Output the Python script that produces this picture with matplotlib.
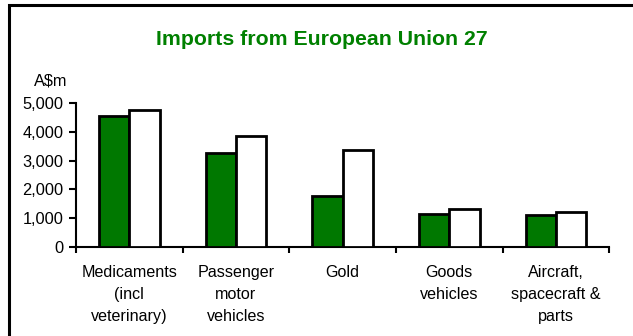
import numpy as np
import matplotlib.pyplot as plt
from matplotlib.patches import Rectangle

plt.rcParams['font.family'] = ['Liberation Sans', 'DejaVu Sans']

categories = ["Medicaments\n(incl\nveterinary)", "Passenger\nmotor\nvehicles", "Gold",
              "Goods\nvehicles", "Aircraft,\nspacecraft &\nparts"]
series_green = [4550, 3270, 1770, 1160, 1110]
series_white = [4760, 3850, 3350, 1310, 1220]
yticks = [0, 1000, 2000, 3000, 4000, 5000]
ytick_labels = ["0", "1,000", "2,000", "3,000", "4,000", "5,000"]

W, H = 633, 336
fig = plt.figure(figsize=(W / 100, H / 100), dpi=100)
ax = fig.add_axes([76 / W, 1 - 247.3 / H, (609.3 - 76) / W, (247.3 - 102.7) / H])

x = np.arange(len(categories))
bw = 0.285
ax.bar(x - bw / 2, series_green, bw, color='#007800', edgecolor='black', linewidth=2, zorder=3)
ax.bar(x + bw / 2, series_white, bw, color='white', edgecolor='black', linewidth=2, zorder=3)

ax.set_xlim(-0.5, len(categories) - 0.5)
ax.set_ylim(0, 5000)
ax.set_yticks(yticks)
ax.set_yticklabels(ytick_labels, fontsize=11.8)
# category boundaries get the tick marks, names sit at the centres
ax.set_xticks(np.arange(len(categories) + 1) - 0.5)
ax.set_xticklabels([])
ax.set_xticks(x, minor=True)
ax.set_xticklabels(categories, minor=True, fontsize=11.6, linespacing=1.6, va='top')
ax.tick_params(axis='x', which='minor', length=0, pad=12.5)
ax.tick_params(axis='x', which='major', length=4, width=1.5, direction='out')
ax.tick_params(axis='y', length=5, width=1.5, direction='out', pad=4)

for s in ['top', 'right']:
    ax.spines[s].set_visible(False)
ax.spines['left'].set_linewidth(1.5)
ax.spines['bottom'].set_linewidth(1.5)

fig.text(51 / W, 1 - 81 / H, "A$m", fontsize=11.8, ha='center', va='center')
fig.text(322 / W, 1 - 39.5 / H, "Imports from European Union 27", fontsize=15.3,
         fontweight='bold', color='#008000', ha='center', va='center')

fig.patches.append(Rectangle((9 / W, -0.1), 1.2, 1 - 5 / H + 0.1, transform=fig.transFigure,
                             fill=False, edgecolor='black', linewidth=2.2))

fig.savefig("out.png", dpi=100)
